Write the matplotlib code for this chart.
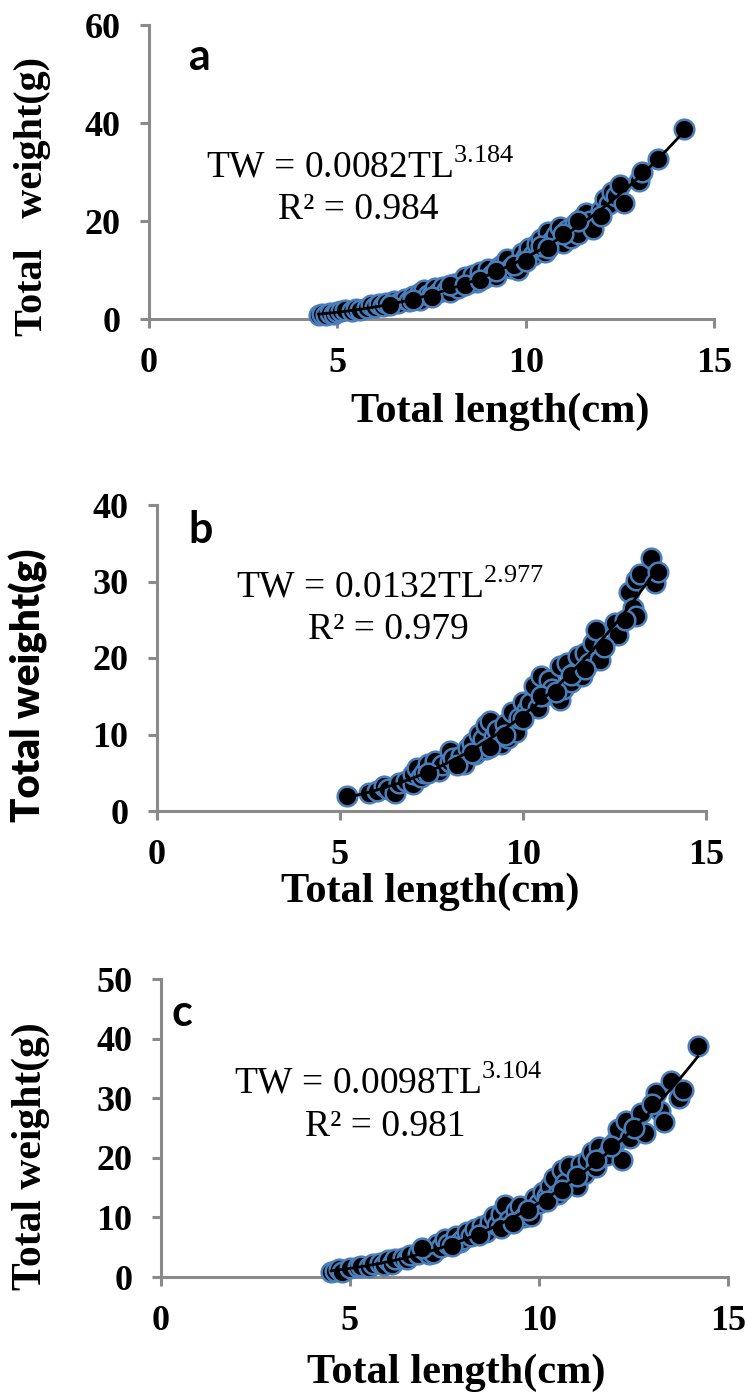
import numpy as np
import matplotlib
matplotlib.use("Agg")
import matplotlib.pyplot as plt

# length-weight data, three samples
a_tl = [4.5, 4.6, 4.7, 4.8, 4.9, 5.0, 5.1, 5.2, 5.4, 5.5, 5.6, 5.8, 5.9, 6.0, 6.1, 6.2, 6.3,
        6.5, 6.6, 6.8, 6.9, 7.0, 7.1, 7.2, 7.2, 7.3, 7.4, 7.5, 7.6, 7.7, 7.8, 7.9, 8.0, 8.1,
        8.2, 8.3, 8.4, 8.5, 8.6, 8.7, 8.8, 8.9, 9.0, 9.1, 9.2, 9.3, 9.4, 9.5, 9.6, 9.8, 9.9,
        10.0, 10.1, 10.2, 10.3, 10.4, 10.5, 10.6, 10.7, 10.8, 10.9, 11.0, 11.1, 11.2, 11.3,
        11.4, 11.5, 11.6, 11.7, 11.8, 12.0, 12.1, 12.2, 12.3, 12.4, 12.5, 12.6, 13.0, 13.1,
        13.5, 14.2,
        6.4, 7.0, 7.5, 8.0, 8.4, 8.8, 9.2, 9.7, 10.0, 10.4, 10.6, 11.0, 11.4, 12.0]
a_tw = [0.9, 1.1, 0.8, 1.2, 1.0, 1.4, 1.6, 1.9, 1.7, 2.1, 1.9, 2.3, 2.8, 2.4, 3.0, 2.6, 3.2,
        3.6, 3.3, 4.1, 3.7, 4.6, 4.2, 5.4, 3.8, 5.9, 4.8, 5.2, 6.3, 5.5, 6.6, 6.0, 5.6, 7.2,
        6.4, 7.8, 8.6, 7.4, 8.9, 7.6, 9.6, 8.4, 10.2, 9.0, 8.7, 10.6, 11.3, 12.2, 10.4, 9.9, 13.4,
        12.6, 14.4, 13.1, 15.4, 16.3, 13.6, 17.8, 15.9, 17.2, 18.8, 15.6, 18.2, 16.5, 19.4,
        17.3, 20.6, 21.7, 19.9, 18.4, 22.2, 24.5, 23.4, 26.0, 25.2, 27.4, 23.7, 28.1, 30.1,
        32.6, 38.8,
        2.9, 3.9, 4.4, 7.0, 7.0, 8.0, 9.8, 11.0, 11.8, 14.8, 14.4, 17.4, 20.0, 21.0]

b_tl = [5.2, 5.8, 6.0, 6.2, 6.3, 6.5, 6.6, 6.8, 7.0, 7.0, 7.1, 7.2, 7.3, 7.4, 7.5, 7.6, 7.7,
        7.8, 8.0, 8.0, 8.1, 8.3, 8.4, 8.5, 8.6, 8.7, 8.8, 8.9, 9.0, 9.0, 9.1, 9.2, 9.3, 9.4,
        9.5, 9.6, 9.7, 9.8, 9.9, 10.0, 10.1, 10.2, 10.3, 10.4, 10.5, 10.6, 10.7, 10.8, 11.0,
        11.0, 11.1, 11.2, 11.3, 11.4, 11.5, 11.6, 11.7, 11.8, 11.9, 12.0, 12.1, 12.5, 12.6,
        12.9, 13.0, 13.1, 13.1, 13.2, 13.5, 13.6, 13.7,
        7.4, 8.2, 8.6, 9.1, 9.5, 10.0, 10.5, 10.9, 11.3, 11.7, 12.2, 12.8]
b_tw = [2.0, 2.4, 2.6, 3.3, 2.9, 2.3, 3.6, 3.9, 3.5, 4.8, 5.6, 4.5, 5.0, 6.2, 5.4, 6.6, 5.2,
        6.0, 7.8, 6.4, 6.9, 7.2, 6.2, 8.3, 8.9, 7.4, 10.1, 9.4, 8.1, 11.2, 11.8, 9.7, 10.6, 8.8,
        11.4, 9.6, 13.0, 10.3, 12.2, 14.3, 13.2, 14.1, 16.4, 13.4, 17.6, 15.2, 17.1, 16.0, 14.5,
        18.9, 15.9, 19.3, 16.8, 18.1, 20.2, 17.6, 20.6, 19.4, 22.0, 23.6, 19.8, 24.6, 23.0,
        28.6, 26.6, 25.5, 30.2, 31.0, 33.1, 29.8, 31.2,
        5.0, 6.0, 7.6, 8.4, 10.0, 12.0, 15.0, 15.6, 17.8, 18.6, 21.4, 25.0]

c_tl = [4.5, 4.6, 4.7, 4.8, 5.0, 5.2, 5.3, 5.5, 5.6, 5.8, 5.9, 6.0, 6.1, 6.2, 6.4, 6.5, 6.6,
        6.8, 7.0, 7.1, 7.2, 7.3, 7.4, 7.5, 7.6, 7.8, 7.9, 8.0, 8.1, 8.2, 8.3, 8.5, 8.6, 8.7,
        8.8, 8.9, 9.0, 9.1, 9.2, 9.4, 9.5, 9.6, 9.8, 9.9, 10.0, 10.1, 10.2, 10.3, 10.4, 10.5,
        10.6, 10.7, 10.8, 11.0, 11.1, 11.2, 11.3, 11.4, 11.5, 11.6, 11.8, 12.0, 12.1, 12.2,
        12.3, 12.4, 12.7, 12.8, 13.1, 13.2, 13.3, 13.5, 13.7, 13.8, 14.2,
        6.9, 7.7, 8.4, 9.0, 9.3, 9.7, 10.2, 10.6, 11.0, 11.5, 11.9, 12.5, 13.0]
c_tw = [0.9, 1.0, 1.3, 0.9, 1.5, 1.7, 1.9, 1.7, 2.2, 2.4, 2.0, 2.8, 2.1, 3.0, 3.2, 3.0, 3.7,
        3.8, 4.4, 3.9, 4.1, 5.6, 5.0, 6.3, 5.5, 6.8, 5.9, 6.4, 7.6, 6.9, 8.1, 8.6, 7.5, 9.3,
        10.2, 8.7, 10.6, 12.0, 9.5, 11.0, 11.9, 10.0, 10.3, 13.3, 12.4, 14.2, 13.6, 15.3, 16.6,
        14.0, 17.9, 15.8, 18.6, 15.2, 18.9, 17.2, 19.6, 21.0, 18.5, 21.8, 20.4, 22.7, 24.9,
        19.7, 26.1, 23.4, 27.6, 24.1, 30.8, 27.8, 26.0, 32.9, 30.0, 31.3, 38.8,
        4.8, 5.2, 7.0, 8.2, 9.0, 11.2, 12.8, 14.6, 17.0, 19.6, 22.0, 25.0, 29.0]

# fitted power curves TW = a * TL^b, with R^2
a_fit = (0.0082, 3.184, 0.984)
b_fit = (0.0132, 2.977, 0.979)
c_fit = (0.0098, 3.104, 0.981)

x_ticks = [0, 5, 10, 15]
a_yticks = [0, 20, 40, 60]
b_yticks = [0, 10, 20, 30, 40]
c_yticks = [0, 10, 20, 30, 40, 50]

W, H = 747, 1399
AXIS_GRAY = '#8a8a8a'
EDGE_BLUE = '#4a7ebb'

plt.rcParams['mathtext.fontset'] = 'custom'
plt.rcParams['mathtext.rm'] = 'Liberation Serif'

fig = plt.figure(figsize=(W / 100, H / 100), dpi=100)


def px_axes(left, right, bottom, top):
    # axes box given in pixel coords (origin top-left)
    return fig.add_axes([left / W, 1 - bottom / H, (right - left) / W, (bottom - top) / H])


def ftext(x, y, s, **kw):
    return fig.text(x / W, 1 - y / H, s, transform=fig.transFigure, **kw)


def draw_panel(ax, tl, tw, fit, yticks):
    a, b, r2 = fit
    xs = np.linspace(min(tl), max(tl), 200)
    ax.scatter(tl, tw, s=200, facecolor='black', edgecolor=EDGE_BLUE, linewidth=1.8,
               zorder=3, clip_on=False)
    ax.plot(xs, a * xs ** b, color='black', lw=2, zorder=4, clip_on=False)

    ax.set_xlim(0, 15)
    ax.set_ylim(yticks[0], yticks[-1])
    ax.set_xticks(x_ticks)
    ax.set_yticks(yticks)
    for side in ['top', 'right']:
        ax.spines[side].set_visible(False)
    for side in ['left', 'bottom']:
        ax.spines[side].set_color(AXIS_GRAY)
        ax.spines[side].set_linewidth(2.2)
    ax.tick_params(axis='both', direction='out', length=6.5, width=2.2, color=AXIS_GRAY,
                   labelsize=26, pad=14)
    for lab in ax.get_xticklabels() + ax.get_yticklabels():
        lab.set_family('Liberation Serif')
        lab.set_weight('bold')
    ax.patch.set_alpha(0)


serif_bold = dict(family='Liberation Serif', weight='bold')
eq_font = dict(family='Liberation Serif', fontsize=27, ha='center', va='center')
tag_font = dict(family='Lato', weight='bold', fontsize=31, ha='center', va='center')

# panel a
ax_a = px_axes(149, 714, 319, 25)
draw_panel(ax_a, a_tl, a_tw, a_fit, a_yticks)
ftext(200, 57, 'a', **tag_font)
ftext(360, 167, 'TW = %.4fTL$^{%.3f}$' % (a_fit[0], a_fit[1]), **eq_font)
ftext(358, 210, 'R² = %.3f' % a_fit[2], **eq_font)
ftext(500, 412, 'Total length(cm)', fontsize=30.5, ha='center', va='center', **serif_bold)
ftext(33, 197, 'Total   weight(g)', fontsize=29, rotation=90, ha='center', va='center',
      **serif_bold)

# panel b
ax_b = px_axes(157, 706, 811, 505)
draw_panel(ax_b, b_tl, b_tw, b_fit, b_yticks)
ftext(201, 530, 'b', **tag_font)
ftext(390, 587, 'TW = %.4fTL$^{%.3f}$' % (b_fit[0], b_fit[1]), **eq_font)
ftext(388, 630, 'R² = %.3f' % b_fit[2], **eq_font)
ftext(430, 892, 'Total length(cm)', fontsize=30.5, ha='center', va='center', **serif_bold)
ftext(28, 685, 'Total weight(g)', fontsize=29, rotation=90, ha='center', va='center',
      family='Lato', weight='heavy')

# panel c
ax_c = px_axes(161, 728, 1277, 979)
draw_panel(ax_c, c_tl, c_tw, c_fit, c_yticks)
ftext(182, 1013, 'c', **tag_font)
ftext(388, 1083, 'TW = %.4fTL$^{%.3f}$' % (c_fit[0], c_fit[1]), **eq_font)
ftext(385, 1127, 'R² = %.3f' % c_fit[2], **eq_font)
ftext(456, 1373, 'Total length(cm)', fontsize=30.5, ha='center', va='center', **serif_bold)
ftext(31, 1156, 'Total weight(g)', fontsize=30, rotation=90, ha='center', va='center',
      **serif_bold)

fig.savefig('out.png', dpi=100)
